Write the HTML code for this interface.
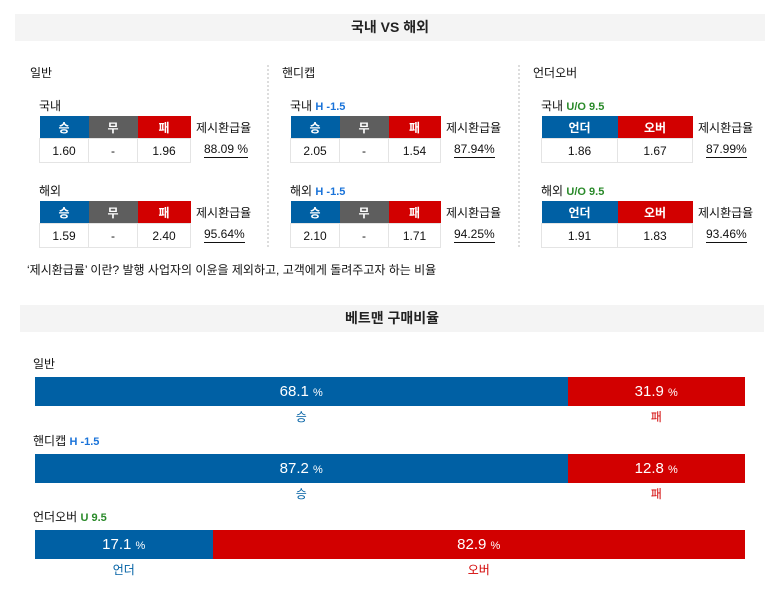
<!DOCTYPE html>
<html><head><meta charset="utf-8">
<style>
body{margin:0;width:784px;height:605px;background:#fff;font-family:"Liberation Sans","Noto Sans CJK KR",sans-serif;color:#111;position:relative;overflow:hidden}
.a{position:absolute}
.hdr{background:#f4f4f4;text-align:center;font-size:14px;font-weight:bold;color:#222}
.t{position:absolute;font-size:12px}
.ct{position:absolute;border-collapse:collapse;font-size:12px}
.ct td{border:1px solid #e4e4e4;text-align:center;height:23px;padding:0}
.ct th{height:22px;color:#fff;font-weight:bold;padding:0;border:none}
.b{background:#0060a4}.g{background:#5e5e5e}.r{background:#d20000}
.rate{position:absolute;font-size:12px}
.rate u{text-decoration:none;border-bottom:1px solid #111;padding-bottom:1px}
.sep{position:absolute;top:65px;height:182px;border-left:2px dotted #ddd}
.blue{color:#1a73d9;font-weight:bold}.green{color:#2a8a2a;font-weight:bold}
.seg{position:absolute;height:29px;color:#fff;font-size:15px;text-align:center;line-height:29px}
.seg small{font-size:11px}
.lab{position:absolute;font-size:12px;text-align:center}
</style></head><body>
<div class="a hdr" style="left:15px;top:14px;width:750px;height:27px;line-height:27px">국내 VS 해외</div>
<div class="sep" style="left:267px"></div>
<div class="sep" style="left:518px"></div>
<div id="odds"></div>
<div class="t" style="left:27px;top:261px">‘제시환급률’ 이란? 발행 사업자의 이윤을 제외하고, 고객에게 돌려주고자 하는 비율</div>
<div class="a hdr" style="left:20px;top:305px;width:744px;height:27px;line-height:27px">베트맨 구매비율</div>
<div id="bars"></div>
<script>
const cols=[{x:30,tx:39,title:'일반',tag:'',cls:'',heads:['승','무','패'],hc:['b','g','r'],w:[49,49,53],
 rows:[{n:'국내',v:['1.60','-','1.96'],rate:'88.09 %'},{n:'해외',v:['1.59','-','2.40'],rate:'95.64%'}]},
 {x:282,tx:290,title:'핸디캡',tag:'H -1.5',cls:'blue',heads:['승','무','패'],hc:['b','g','r'],w:[49,49,52],
 rows:[{n:'국내',v:['2.05','-','1.54'],rate:'87.94%'},{n:'해외',v:['2.10','-','1.71'],rate:'94.25%'}]},
 {x:533,tx:541,title:'언더오버',tag:'U/O 9.5',cls:'green',heads:['언더','오버'],hc:['b','r'],w:[76,75],
 rows:[{n:'국내',v:['1.86','1.67'],rate:'87.99%'},{n:'해외',v:['1.91','1.83'],rate:'93.46%'}]}];
const O=document.getElementById('odds');
cols.forEach(c=>{
 let h=`<div class="t" style="left:${c.x}px;top:64px;font-size:12px">${c.title}</div>`;
 c.rows.forEach((r,i)=>{
  const y=i?182:97, ty=i?201:116;
  h+=`<div class="t" style="left:${c.tx}px;top:${y}px">${r.n} <span class="${c.cls}" style="font-size:11px">${c.tag}</span></div>`;
  h+=`<table class="ct" style="left:${c.tx}px;top:${ty}px"><tr>`+c.heads.map((x,j)=>`<th class="${c.hc[j]}" style="width:${c.w[j]}px">${x}</th>`).join('')+`</tr><tr>`+r.v.map(x=>`<td>${x}</td>`).join('')+`</tr></table>`;
  const rx=c.tx+c.w.reduce((a,b)=>a+b,0)+6;
  h+=`<div class="rate" style="left:${rx}px;top:${ty+3}px">제시환급율</div>`;
  h+=`<div class="rate" style="left:${rx+8}px;top:${ty+26}px"><u>${r.rate}</u></div>`;
 });
 O.innerHTML+=h;
});
const barTitles=['일반','핸디캡','언더오버'];
const barTags=['','H -1.5','U 9.5'];
const leftVals=[68.1,87.2,17.1];
const rightVals=[31.9,12.8,82.9];
const leftNames=['승','승','언더'];
const rightNames=['패','패','오버'];
const B=document.getElementById('bars');
const X0=35,W=710;
// reference layout: the larger share occupies 75% of the bar, the smaller 25%
function sx(lv,rv){return (lv>=rv?75:25)/100*W;}
leftVals.forEach((lv,i)=>{
 const y=377+i*76.5, lw=sx(lv,rightVals[i]), rw=W-lw;
 const t=document.createElement('div');t.className='t';t.style.left='33px';t.style.top=(y-22)+'px';
 t.innerHTML=barTitles[i]+(barTags[i]?` <span class="${i==1?'blue':'green'}" style="font-size:11px">${barTags[i]}</span>`:'');
 
 
 B.appendChild(t);
 const l=document.createElement('div');l.className='seg b';l.style.cssText=`left:${X0}px;top:${y}px;width:${lw}px`;l.innerHTML=lv+' <small>%</small>';
 
 
 B.appendChild(l);
 const r=document.createElement('div');r.className='seg r';r.style.cssText=`left:${X0+lw}px;top:${y}px;width:${rw}px`;r.innerHTML=rightVals[i]+' <small>%</small>';
 
 
 B.appendChild(r);
 const ll=document.createElement('div');ll.className='lab';ll.style.cssText=`left:${X0}px;top:${y+31}px;width:${lw}px;color:#0060a4`;ll.textContent=leftNames[i];
 
 
 B.appendChild(ll);
 const rl=document.createElement('div');rl.className='lab';rl.style.cssText=`left:${X0+lw}px;top:${y+31}px;width:${rw}px;color:#d20000`;rl.textContent=rightNames[i];
 
 
 B.appendChild(rl);
});
</script>
</body></html>
